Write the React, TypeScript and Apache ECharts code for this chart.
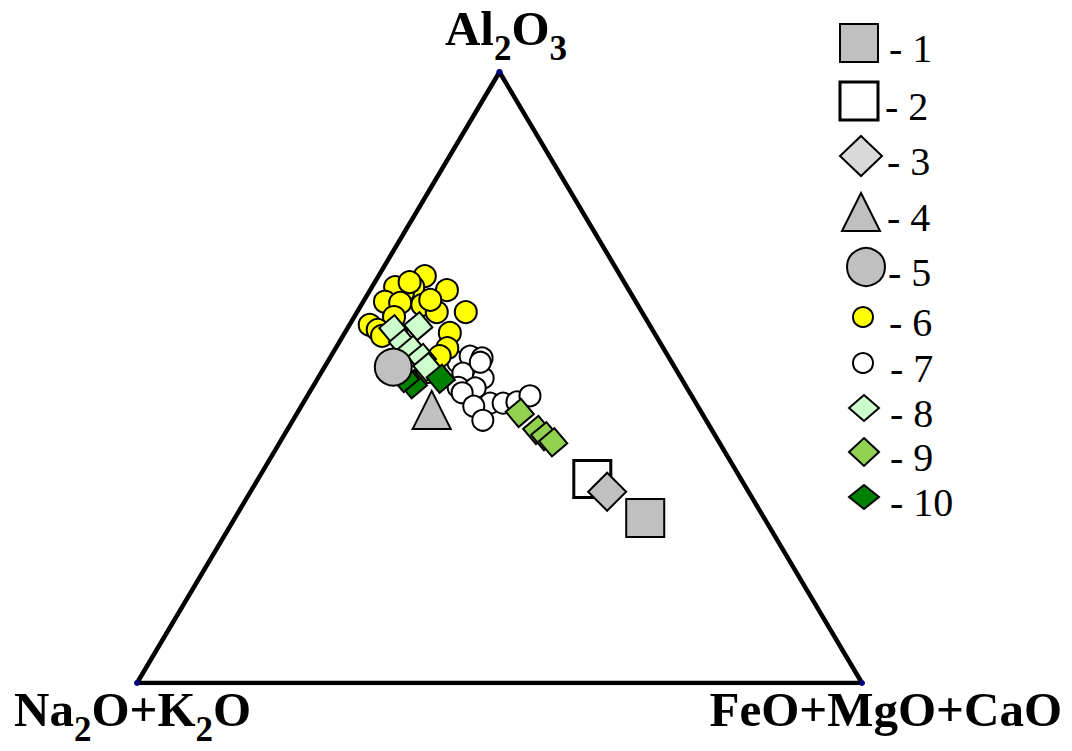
import React, { useEffect, useRef } from 'react';
import * as echarts from 'echarts';

// Ternary compositions: [Al2O3, Na2O+K2O, FeO+MgO+CaO] in %
const series1 = [[27.0, 16.4, 56.6]];
const series2 = [[33.4, 20.5, 46.1]];
const series3 = [[31.3, 19.5, 49.2]];
const series4 = [[44.7, 37.0, 18.3]];
const series5 = [[51.7, 38.8, 9.5]];
const series6 = [
  [66.6, 27.0, 6.4], [64.8, 29.5, 5.7], [64.0, 31.3, 4.7], [64.8, 32.0, 3.2],
  [64.3, 25.1, 10.6], [62.4, 34.6, 3.0], [62.2, 32.6, 5.2], [61.9, 29.7, 8.4],
  [60.7, 28.3, 11.0], [60.7, 24.3, 15.0], [58.6, 38.6, 2.8], [59.9, 34.6, 5.5],
  [57.3, 28.2, 14.5], [54.8, 29.8, 15.4], [53.5, 31.5, 15.0], [57.8, 37.9, 4.3],
  [62.7, 28.2, 9.1], [50.9, 34.5, 14.6], [65.6, 29.6, 4.8], [56.8, 37.8, 5.4],
];
const series7 = [
  [52.5, 29.5, 18.0], [53.5, 27.3, 19.2], [53.2, 25.8, 21.0], [50.7, 29.7, 19.6],
  [49.9, 27.3, 22.8], [48.4, 31.5, 20.1], [48.3, 29.2, 22.5], [47.5, 31.4, 21.1],
  [45.8, 28.4, 25.8], [45.3, 30.9, 23.8], [43.0, 30.8, 26.2], [45.8, 26.6, 27.6],
  [46.0, 24.6, 29.4], [47.0, 22.3, 30.7], [52.5, 26.4, 21.1],
];
const series8 = [
  [57.9, 35.7, 6.4], [58.4, 32.0, 9.6], [55.6, 35.5, 8.9], [54.5, 34.8, 10.7],
  [53.2, 34.1, 12.7], [51.7, 34.1, 14.2],
];
const series9 = [
  [44.2, 25.1, 30.7], [41.4, 24.1, 34.5], [40.4, 23.5, 36.1], [39.4, 22.9, 37.7],
];
const series10 = [
  [48.9, 37.5, 13.6], [49.8, 33.2, 17.0], [49.9, 38.1, 12.0],
];
const legendLabels = ['1', '2', '3', '4', '5', '6', '7', '8', '9', '10'];
const triangleVertices = [[100, 0, 0], [0, 100, 0], [0, 0, 100], [100, 0, 0]];

const toXY = (p: number[]) => {
  const s = p[0] + p[1] + p[2];
  const a = (p[0] / s) * 100;
  const f = (p[2] / s) * 100;
  return [f + a / 2, a];
};

const SERIF = '"Liberation Serif", "Times New Roman", serif';
const GRAY = '#c0c0c0';

export default function App() {
  const ref = useRef<HTMLDivElement>(null);
  useEffect(() => {
    if (!ref.current) return;
    const chart = echarts.init(ref.current, null, { renderer: 'svg' });

    const sc = (name: string, data: number[][], symbol: string, size: number, fill: string, border: number, rotate = 0) => ({
      type: 'scatter',
      name,
      data: data.map(toXY),
      symbol,
      symbolSize: size,
      symbolRotate: rotate,
      itemStyle: { color: fill, borderColor: '#000', borderWidth: border, opacity: 1 },
      emphasis: { disabled: true },
    });

    // legend graphics
    const lg: any[] = [];
    const stroke = { stroke: '#000', lineWidth: 2 };
    const diamond = (cx: number, cy: number, hw: number, hh: number) => [[cx, cy - hh], [cx + hw, cy], [cx, cy + hh], [cx - hw, cy]];
    lg.push({ type: 'rect', shape: { x: 840, y: 24, width: 38, height: 38 }, style: { fill: GRAY, ...stroke } });
    lg.push({ type: 'rect', shape: { x: 840, y: 82, width: 38, height: 38 }, style: { fill: '#fff', stroke: '#000', lineWidth: 3 } });
    lg.push({ type: 'polygon', shape: { points: diamond(861, 156, 21, 20) }, style: { fill: '#d9d9d9', ...stroke } });
    lg.push({ type: 'polygon', shape: { points: [[861, 193], [880, 231], [842, 231]] }, style: { fill: GRAY, ...stroke } });
    lg.push({ type: 'circle', shape: { cx: 866, cy: 267, r: 19 }, style: { fill: GRAY, ...stroke } });
    lg.push({ type: 'circle', shape: { cx: 863, cy: 317, r: 10 }, style: { fill: '#ffff00', ...stroke } });
    lg.push({ type: 'circle', shape: { cx: 863, cy: 363, r: 10 }, style: { fill: '#ffffff', ...stroke } });
    lg.push({ type: 'polygon', shape: { points: diamond(864, 408, 15, 13) }, style: { fill: '#ccffcc', ...stroke } });
    lg.push({ type: 'polygon', shape: { points: diamond(864, 452, 15, 14) }, style: { fill: '#92d050', ...stroke } });
    lg.push({ type: 'polygon', shape: { points: diamond(864, 497, 15, 12) }, style: { fill: '#008000', ...stroke } });
    const legendY = [43, 101, 156, 212, 267, 317, 363, 408, 452, 497];
    const legendX = [889, 885, 887, 887, 888, 889, 890, 890, 890, 890];
    legendLabels.forEach((l, i) => {
      lg.push({
        type: 'text',
        style: {
          text: '- ' + l,
          x: legendX[i],
          y: legendY[i] + 5,
          font: `40px ${SERIF}`,
          fill: '#000',
          align: 'left',
          verticalAlign: 'middle',
        },
      });
    });

    const rich = {
      m: { fontSize: 49, fontWeight: 'bold', fontFamily: SERIF, fill: '#000', color: '#000', verticalAlign: 'bottom', padding: [0, 0, 13, 0] },
      s: { fontSize: 35, fontWeight: 'bold', fontFamily: SERIF, fill: '#000', color: '#000', verticalAlign: 'bottom' },
    };
    const labels = [
      { text: '{m|Al}{s|2}{m|O}{s|3}', x: 506, y: 66, align: 'center' },
      { text: '{m|Na}{s|2}{m|O+K}{s|2}{m|O}', x: 14, y: 747, align: 'left' },
      { text: '{m|FeO+MgO+CaO}', x: 1062, y: 747, align: 'right' },
    ].map((t) => ({
      type: 'text',
      style: { text: t.text, x: t.x, y: t.y, align: t.align, verticalAlign: 'bottom', rich },
    }));

    chart.setOption({
      animation: false,
      backgroundColor: '#fff',
      grid: { left: 137, right: 210, top: 72, bottom: 68 },
      xAxis: { type: 'value', min: 0, max: 100, show: false },
      yAxis: { type: 'value', min: 0, max: 100, show: false },
      series: [
        {
          type: 'line',
          data: triangleVertices.map(toXY),
          lineStyle: { color: '#000', width: 4.5 },
          symbol: 'circle',
          symbolSize: 6,
          showSymbol: true,
          itemStyle: { color: '#000080', borderWidth: 0 },
          emphasis: { disabled: true },
          z: 1,
        },
        sc('7', series7, 'circle', 21, '#ffffff', 2),
        sc('6', series6, 'circle', 22, '#ffff00', 2),
        sc('8', series8, 'rect', 20, '#ccffcc', 2, 40),
        sc('9', series9, 'rect', 20, '#92d050', 2, 40),
        sc('10', series10, 'rect', 20, '#008000', 2, 40),
        sc('5', series5, 'circle', 37, GRAY, 2),
        sc('4', series4, 'triangle', 38, GRAY, 2),
        sc('2', series2, 'rect', 37, '#ffffff', 3),
        sc('3', series3, 'diamond', 38, GRAY, 2),
        sc('1', series1, 'rect', 38, GRAY, 2),
      ],
      graphic: [...lg, ...labels],
    });
    return () => chart.dispose();
  }, []);
  return <div ref={ref} style={{ position: 'fixed', left: 0, top: 0, width: 1072, height: 751 }} />;
}
